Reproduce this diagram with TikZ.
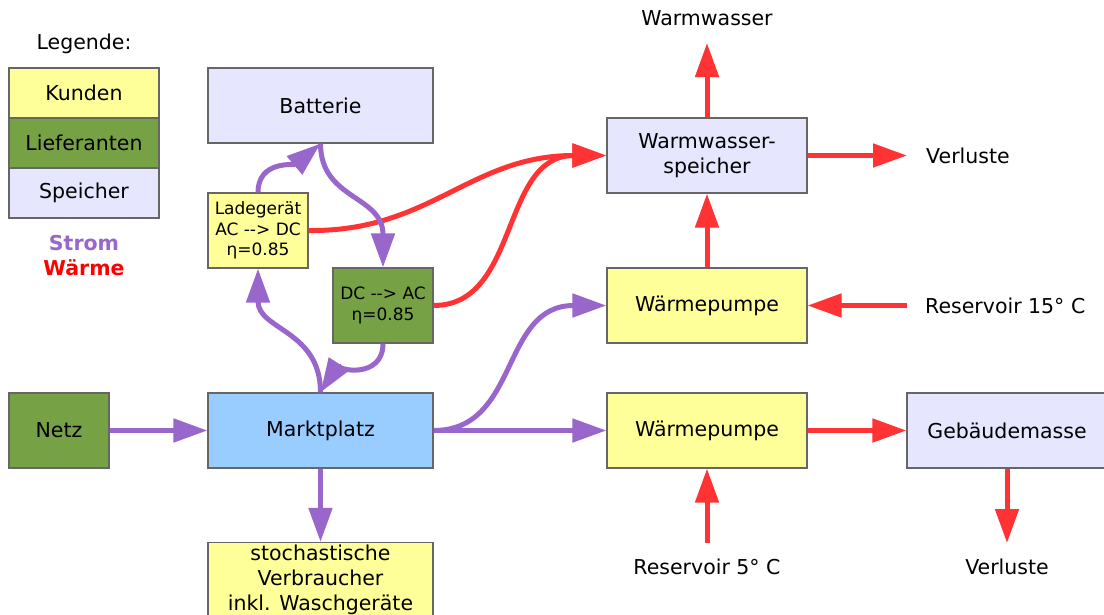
\documentclass[tikz,border=0pt]{standalone}
\usepackage{fontspec}
\setmainfont{DejaVu Sans}
\usetikzlibrary{arrows.meta}
\definecolor{kunde}{HTML}{FFFF99}
\definecolor{liefer}{HTML}{77A145}
\definecolor{speicher}{HTML}{E6E6FF}
\definecolor{markt}{HTML}{99CCFF}
\definecolor{rand}{HTML}{666666}
\definecolor{strom}{HTML}{9966CC}
\definecolor{waerme}{HTML}{FF3333}
\definecolor{waermetext}{HTML}{FF0000}
\tikzset{
  big/.style={font=\fontsize{20.5}{25}\selectfont},
  small/.style={font=\fontsize{17}{20.5}\selectfont},
  box/.style={draw=rand, line width=1.2pt, inner sep=0pt, align=center, big,
    minimum width=225pt, minimum height=75pt},
  narrow/.style={box, minimum width=100pt, small},
  mid/.style={box, minimum width=200pt},
  legendbox/.style={box, minimum width=150pt, minimum height=50pt},
  flow/.style={line width=5pt, -{Triangle[length=34pt,width=23pt]}},
  stromflow/.style={flow, draw=strom},
  waermeflow/.style={flow, draw=waerme},
  lbl/.style={big, inner sep=0pt}
}
\begin{document}
\begin{tikzpicture}[x=1pt, y=-1pt]
\useasboundingbox (0,0) rectangle (1104,614);

% legend
\node[lbl] (legtitle) at (84,44) {Legende:};
\node[legendbox, fill=kunde] (legk) at (84,93) {Kunden};
\node[legendbox, fill=liefer] (legl) at (84,143) {Lieferanten};
\node[legendbox, fill=speicher] (legs) at (84,193) {Speicher};
\node[lbl, font=\fontsize{20.5}{25}\selectfont\bfseries, text=strom] (legstrom) at (84,243) {Strom};
\node[lbl, font=\fontsize{20.5}{25}\selectfont\bfseries, text=waermetext] (legwaerme) at (84,268) {Wärme};

% electricity side
\node[box, fill=speicher] (batt) at (320.5,105.5) {Batterie};
\node[narrow, fill=kunde] (lade) at (258,230.5) {Ladegerät\\AC -{}-{}> DC\\η=0.85};
\node[narrow, fill=liefer] (wr) at (383,305.5) {DC -{}-{}> AC\\η=0.85};
\node[box, fill=markt] (markt) at (320.5,430.5) {Marktplatz};
\node[narrow, big, fill=liefer] (netz) at (59,430.5) {Netz};
\node[box, fill=kunde] (verbr) at (320.5,580) {stochastische\\Verbraucher\\inkl. Waschgeräte};

% heat side
\node[mid, fill=speicher] (wws) at (707,155.5) {Warmwasser-\\speicher};
\node[mid, fill=kunde] (wp1) at (707,305.5) {Wärmepumpe};
\node[mid, fill=kunde] (wp2) at (707,430.5) {Wärmepumpe};
\node[mid, fill=speicher] (geb) at (1007,430.5) {Gebäudemasse};

\node[lbl] (ww) at (707,18) {Warmwasser};
\node[lbl, anchor=west] (verl1) at (926,155.5) {Verluste};
\node[lbl, anchor=west] (res15) at (925,305.5) {Reservoir 15° C};
\node[lbl] (res5) at (707,567) {Reservoir 5° C};
\node[lbl] (verl2) at (1007,567) {Verluste};

\coordinate (wwend) at (707,43);
\coordinate (verl1end) at (907,155.5);
\coordinate (res15start) at (907,305.5);
\coordinate (res5start) at (707,543);
\coordinate (verl2end) at (1007,543);

% heat flows
\draw[waermeflow] (lade.east) .. controls (430,232) and (470,155.5) .. (wws.west);
\draw[waermeflow] (wr.east) .. controls (520,305.5) and (500,155.5) .. (wws.west);
\draw[waermeflow] (wws.north) -- (wwend);
\draw[waermeflow] (wws.east) -- (verl1end);
\draw[waermeflow] (wp1.north) -- (wws.south);
\draw[waermeflow] (res15start) -- (wp1.east);
\draw[waermeflow] (wp2.east) -- (geb.west);
\draw[waermeflow] (res5start) -- (wp2.south);
\draw[waermeflow] (geb.south) -- (verl2end);

% electricity flows
\draw[stromflow] (netz.east) -- (markt.west);
\draw[stromflow] (markt.east) -- (wp2.west);
\draw[stromflow] (markt.east) .. controls (520,430.5) and (500,305.5) .. (wp1.west);
\draw[stromflow] (markt.south) -- (verbr.north);
\draw[stromflow] (markt.north) .. controls (320.5,330) and (258,330) .. (lade.south);
\draw[stromflow] (wr.south) .. controls (383,380) and (335,370) .. (markt.north);
\draw[stromflow] (lade.north) .. controls (258,160) and (295,165) .. (batt.south);
\draw[stromflow] (batt.south) .. controls (320.5,200) and (383,195) .. (wr.north);
\end{tikzpicture}
\end{document}
